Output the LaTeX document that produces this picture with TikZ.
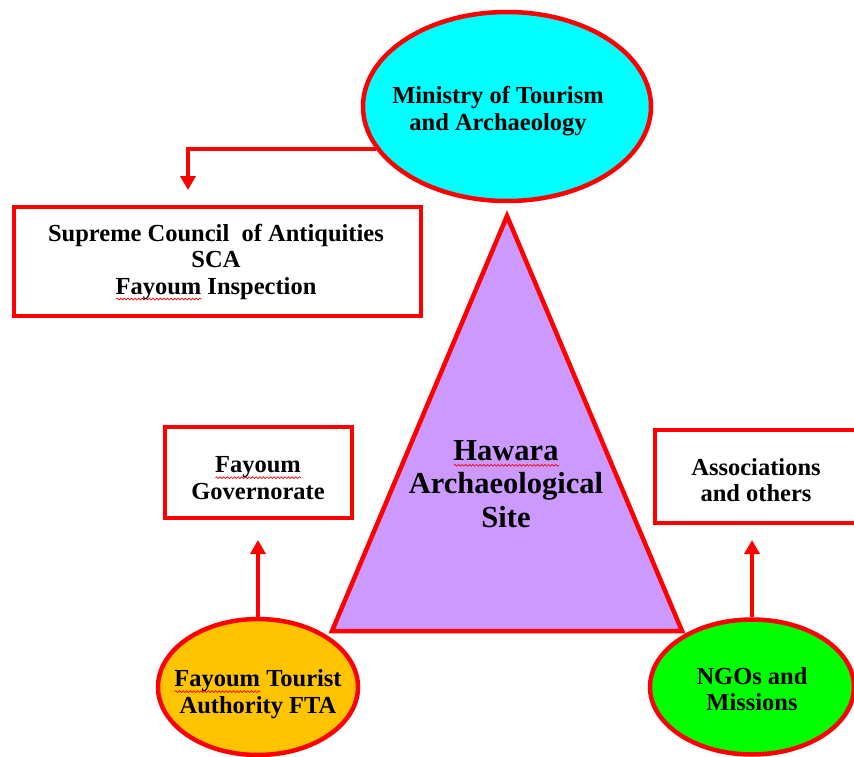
\documentclass[tikz,border=0pt]{standalone}
\usepackage{fontspec}
\setmainfont{Liberation Serif}
\usetikzlibrary{shapes.geometric,arrows.meta,decorations.pathmorphing}
\definecolor{redline}{HTML}{FF0000}
\definecolor{cyanfill}{HTML}{00FFFF}
\definecolor{lavender}{HTML}{CC99FF}
\definecolor{ftafill}{HTML}{FFC400}
\definecolor{ngofill}{HTML}{00FF00}
\newsavebox\wavbox
\newcommand\wav[1]{\sbox\wavbox{#1}\rlap{\raisebox{-5pt}{\tikz[baseline=0pt]\draw[red, line width=0.7pt, decorate, decoration={snake,amplitude=0.9pt,segment length=3.6pt}] (0pt,0pt) -- (\wd\wavbox,0pt);}}\usebox\wavbox}
\begin{document}
\begin{tikzpicture}[x=1pt,y=-1pt,
  oval/.style={ellipse, draw=redline, line width=4.5pt, inner sep=0pt},
  boxnode/.style={rectangle, draw=redline, line width=4.5pt, fill=white, inner sep=0pt},
  txt/.style={align=center, text=black, font=\bfseries\fontsize{24.5}{26.5}\selectfont},
  bigtxt/.style={align=center, text=black, font=\bfseries\fontsize{30.5}{33.5}\selectfont},
  conn/.style={draw=redline, line width=4pt, -{Triangle[width=15pt,length=14pt]}}]
\useasboundingbox (0,0) rectangle (854,757);
\clip (0,0) rectangle (854,757);

% triangle
\coordinate (apex) at (507,216);
\coordinate (bl) at (332,631);
\coordinate (br) at (682,631);
\draw[draw=redline, line width=4.5pt, fill=lavender] (apex) -- (bl) -- (br) -- cycle;
\node[bigtxt] (site) at (506,484) {\wav{Hawara}\\Archaeological\\Site};

% boxes
\node[boxnode, minimum width=407pt, minimum height=109pt] (sca) at (217.5,261.5) {};
\node[txt] (scatext) at (216,262) {Supreme Council\ \ of Antiquities\\SCA\\\wav{Fayoum} Inspection};
\node[boxnode, minimum width=187pt, minimum height=91pt] (gov) at (258.5,472.5) {};
\node[txt] (govtext) at (258,478) {\wav{Fayoum}\\Governorate};
\node[boxnode, minimum width=202pt, minimum height=93pt] (assoc) at (756,476.5) {};
\node[txt] (assoctext) at (756,480) {Associations\\and others};

% ellipses
\node[oval, fill=cyanfill, minimum width=288pt, minimum height=189pt] (min) at (507,106.5) {};
\node[txt] (mintext) at (498,111) {Ministry of Tourism\\and Archaeology};
\node[oval, fill=ftafill, minimum width=200pt, minimum height=136pt] (fta) at (258,687) {};
\node[txt] (ftatext) at (258,694) {\wav{Fayoum} Tourist\\Authority FTA};
\node[oval, fill=ngofill, minimum width=204pt, minimum height=135pt] (ngo) at (752,687) {};
\node[txt] (ngotext) at (752,689) {NGOs and\\Missions};

% connectors
\coordinate (scatip) at (188,190);
\coordinate (govtip) at (258,540);
\coordinate (assoctip) at (752,540);
\draw[conn] (min.198) -| (scatip);
\draw[conn] (fta.north) -- (govtip);
\draw[conn] (ngo.north) -- (assoctip);
\end{tikzpicture}
\end{document}
